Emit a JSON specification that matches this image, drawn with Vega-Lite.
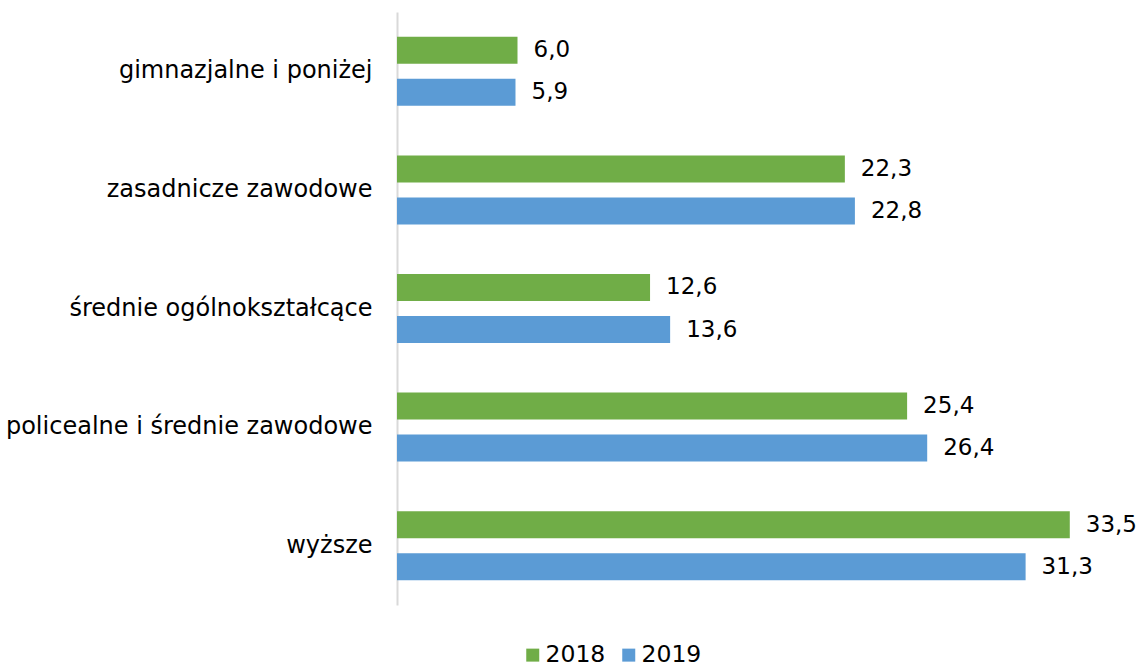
{
  "$schema": "https://vega.github.io/schema/vega-lite/v6.json",
  "autosize": "none",
  "width": 723,
  "height": 593,
  "padding": {"left": 397, "top": 12, "right": 24, "bottom": 60},
  "background": "white",
  "config": {
    "view": {"stroke": null},
    "font": "DejaVu Sans",
    "locale": {"number": {"decimal": ",", "thousands": " ", "grouping": [3], "currency": ["", " zł"]}}
  },
  "data": {
    "values": [
      {"kategoria": "gimnazjalne i poniżej", "rok": "2018", "wartosc": 6.0},
      {"kategoria": "gimnazjalne i poniżej", "rok": "2019", "wartosc": 5.9},
      {"kategoria": "zasadnicze zawodowe", "rok": "2018", "wartosc": 22.3},
      {"kategoria": "zasadnicze zawodowe", "rok": "2019", "wartosc": 22.8},
      {"kategoria": "średnie ogólnokształcące", "rok": "2018", "wartosc": 12.6},
      {"kategoria": "średnie ogólnokształcące", "rok": "2019", "wartosc": 13.6},
      {"kategoria": "policealne i średnie zawodowe", "rok": "2018", "wartosc": 25.4},
      {"kategoria": "policealne i średnie zawodowe", "rok": "2019", "wartosc": 26.4},
      {"kategoria": "wyższe", "rok": "2018", "wartosc": 33.5},
      {"kategoria": "wyższe", "rok": "2019", "wartosc": 31.3}
    ]
  },
  "encoding": {
    "y": {
      "field": "kategoria", "type": "nominal", "sort": null,
      "scale": {"paddingInner": 0, "paddingOuter": 0},
      "axis": {"title": null, "ticks": false, "labelFontSize": 24, "labelColor": "#000000", "labelPadding": 25, "labelLimit": 0, "domainColor": "#d9d9d9", "domainWidth": 2, "labelFont": "DejaVu Sans"}
    },
    "yOffset": {"field": "rok", "type": "nominal", "sort": ["2018", "2019"], "scale": {"paddingInner": 0.357, "paddingOuter": 0.59}},
    "x": {"field": "wartosc", "type": "quantitative", "scale": {"domain": [0, 36], "nice": false}, "axis": null}
  },
  "layer": [
    {
      "mark": {"type": "bar"},
      "encoding": {
        "color": {
          "field": "rok", "type": "nominal",
          "scale": {"domain": ["2018", "2019"], "range": ["#70AD47", "#5B9BD5"]},
          "legend": {"title": null, "orient": "none", "direction": "horizontal", "legendX": 124, "legendY": 631, "symbolType": "square", "symbolSize": 169, "symbolStrokeWidth": 0, "labelFontSize": 23.5, "labelColor": "#000000", "labelOffset": 1, "columnPadding": 11, "labelFont": "DejaVu Sans"}
        }
      }
    },
    {
      "mark": {"type": "text", "align": "left", "baseline": "middle", "dx": 16, "fontSize": 23, "color": "#000000"},
      "encoding": {
        "text": {"field": "wartosc", "type": "quantitative", "format": ".1f"}
      }
    }
  ]
}
